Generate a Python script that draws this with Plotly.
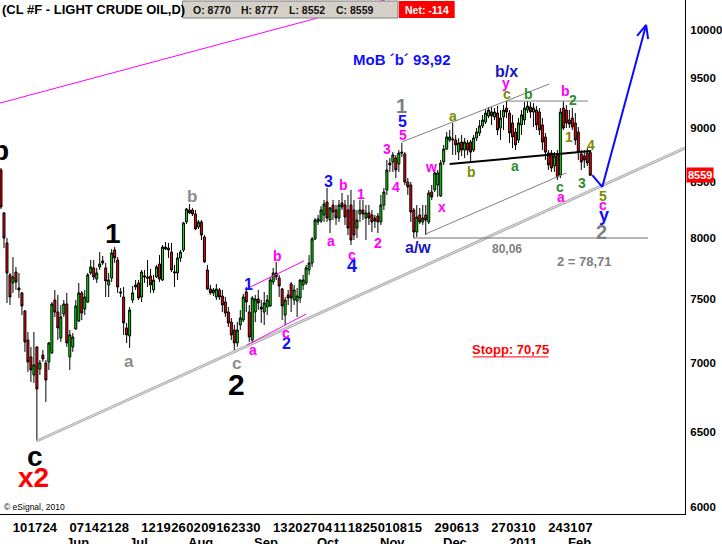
import math
import pandas as pd
import plotly.graph_objects as go

FONT = "Liberation Sans, Arial, sans-serif"

# ---------------- data ----------------
HOLIDAYS = ["2010-05-31", "2010-07-05", "2010-09-06", "2010-11-25", "2010-12-24", "2011-01-17"]
DATES = [d.strftime("%Y-%m-%d") for d in pd.bdate_range("2010-05-04", "2011-02-11")
         if d.strftime("%Y-%m-%d") not in HOLIDAYS]

OPEN = [8607, 8220, 7960, 7692, 7626, 7716, 7585, 7545, 7400, 7174,
        7045, 6910, 7121, 6954, 7060, 7000, 7007, 7075, 7488, 7392,
        7189, 7376, 7456, 7045, 7121, 7259, 7321, 7545, 7416, 7472,
        7708, 7750, 7658, 7758, 7808, 7750, 7610, 7666, 7900, 7816,
        7553, 7512, 7267, 7205, 7488, 7610, 7626, 7512, 7675, 7675,
        7683, 7569, 7675, 7783, 7650, 7925, 7917, 7883, 7708, 7708,
        7833, 7900, 8141, 8246, 8246, 8211, 8097, 8141, 8011, 7733,
        7577, 7545, 7512, 7569, 7520, 7472, 7392, 7313, 7251, 7151,
        7290, 7329, 7553, 7392, 7174, 7392, 7496, 7432, 7392, 7432,
        7440, 7634, 7708, 7666, 7577, 7368, 7529, 7618, 7488, 7480,
        7504, 7610, 7626, 7733, 7791, 7994, 8141, 8149, 8202, 8317,
        8158, 8290, 8246, 8175, 8308, 8290, 8246, 8290, 8246, 8088,
        8211, 8246, 8175, 8220, 8202, 8175, 8193, 8141, 8290, 8425,
        8672, 8681, 8719, 8663, 8774, 8756, 8497, 8470, 8246, 8054,
        8202, 8141, 8202, 8141, 8407, 8425, 8470, 8371, 8681, 8802,
        8888, 8888, 8888, 8774, 8869, 8793, 8860, 8869, 8793, 8907,
        8955, 9023, 9062, 9120, 9159, 9110, 9149, 9003, 9110, 9198,
        9149, 9052, 8965, 8888, 9033, 9081, 9178, 9208, 9159, 9178,
        9159, 9033, 8917, 8765, 8765, 8644, 8747, 8561, 9198, 9178,
        9081, 9100, 9052, 8965, 8756, 8737, 8765, 8770]

HIGH = [8625, 8228, 8002, 7708, 7841, 7758, 7708, 7553, 7408, 7236,
        7121, 7236, 7121, 7022, 7098, 7022, 7159, 7472, 7569, 7529,
        7448, 7488, 7545, 7251, 7228, 7488, 7626, 7561, 7569, 7708,
        7816, 7816, 7750, 7883, 7850, 7791, 7708, 7908, 7926, 7841,
        7585, 7593, 7306, 7432, 7601, 7650, 7650, 7733, 7733, 7816,
        7741, 7692, 7775, 7858, 7942, 7968, 7960, 7960, 7775, 7875,
        7900, 8141, 8264, 8299, 8264, 8246, 8158, 8158, 8028, 7775,
        7610, 7585, 7618, 7585, 7569, 7512, 7432, 7345, 7290, 7313,
        7408, 7537, 7593, 7448, 7520, 7529, 7569, 7488, 7553, 7529,
        7675, 7750, 7800, 7692, 7585, 7512, 7569, 7634, 7610, 7585,
        7655, 7692, 7775, 7858, 8011, 8175, 8202, 8281, 8335, 8443,
        8273, 8335, 8290, 8335, 8398, 8335, 8380, 8425, 8335, 8246,
        8335, 8335, 8290, 8290, 8246, 8202, 8220, 8380, 8443, 8700,
        8719, 8774, 8747, 8793, 8860, 8774, 8533, 8497, 8264, 8290,
        8264, 8290, 8290, 8425, 8470, 8607, 8607, 8700, 8840, 8965,
        8984, 9052, 8936, 8907, 8936, 8907, 8888, 8888, 8936, 9003,
        9081, 9130, 9188, 9208, 9208, 9198, 9218, 9178, 9228, 9267,
        9178, 9130, 9003, 9100, 9178, 9257, 9267, 9257, 9247, 9218,
        9198, 9100, 8955, 8793, 8793, 8774, 8793, 9198, 9267, 9228,
        9178, 9198, 9149, 9013, 8793, 8793, 8812, 8777]

LOW = [8255, 7917, 7464, 7448, 7545, 7569, 7504, 7368, 7083, 6932,
       6858, 6851, 6438, 6910, 7007, 6713, 6947, 7068, 7353, 7174,
       7159, 7353, 7121, 6947, 7083, 7251, 7313, 7329, 7368, 7464,
       7692, 7650, 7626, 7733, 7775, 7512, 7512, 7634, 7791, 7545,
       7512, 7213, 7151, 7113, 7464, 7569, 7488, 7472, 7626, 7593,
       7545, 7545, 7666, 7634, 7642, 7900, 7833, 7716, 7593, 7650,
       7800, 7883, 8123, 8211, 8193, 8071, 8080, 7985, 7791, 7569,
       7529, 7520, 7488, 7488, 7392, 7353, 7274, 7174, 7083, 7121,
       7251, 7313, 7392, 7159, 7151, 7313, 7408, 7306, 7290, 7368,
       7432, 7610, 7650, 7512, 7329, 7290, 7448, 7392, 7448, 7353,
       7464, 7569, 7610, 7692, 7758, 7985, 8115, 8132, 8141, 8141,
       8045, 8158, 8115, 8141, 8246, 8115, 8028, 7942, 7985, 8002,
       8141, 8158, 7985, 8115, 8054, 8088, 8045, 8115, 8246, 8380,
       8589, 8589, 8533, 8589, 8728, 8470, 8380, 8141, 8002, 8011,
       8123, 8115, 8028, 8123, 8335, 8407, 8362, 8362, 8654, 8793,
       8869, 8747, 8747, 8700, 8737, 8719, 8747, 8681, 8774, 8879,
       8926, 9003, 9042, 9100, 9033, 9081, 8936, 8888, 8984, 9100,
       8860, 8812, 8793, 8860, 8936, 9033, 9149, 9100, 9013, 8984,
       8936, 8793, 8700, 8607, 8589, 8589, 8515, 8533, 8984, 9003,
       9003, 8984, 8841, 8700, 8607, 8625, 8644, 8552]

CLOSE = [8273, 8002, 7708, 7512, 7675, 7634, 7569, 7440, 7159, 7007,
         6947, 6985, 6807, 7000, 7030, 6873, 7151, 7456, 7392, 7267,
         7353, 7456, 7151, 7213, 7197, 7440, 7545, 7384, 7512, 7692,
         7758, 7675, 7708, 7783, 7791, 7642, 7650, 7875, 7833, 7593,
         7545, 7306, 7213, 7408, 7545, 7593, 7504, 7716, 7683, 7666,
         7610, 7650, 7758, 7658, 7925, 7908, 7900, 7733, 7716, 7833,
         7883, 8132, 8255, 8220, 8211, 8080, 8141, 8028, 7800, 7577,
         7545, 7569, 7577, 7512, 7448, 7384, 7306, 7213, 7151, 7251,
         7345, 7512, 7472, 7197, 7504, 7496, 7464, 7416, 7464, 7488,
         7650, 7708, 7675, 7601, 7440, 7488, 7504, 7504, 7569, 7520,
         7650, 7650, 7750, 7791, 7994, 8158, 8167, 8246, 8299, 8175,
         8264, 8228, 8175, 8290, 8273, 8184, 8088, 7985, 8028, 8158,
         8246, 8211, 8220, 8175, 8141, 8149, 8141, 8290, 8407, 8607,
         8654, 8747, 8607, 8765, 8765, 8497, 8452, 8228, 8054, 8184,
         8141, 8175, 8158, 8398, 8362, 8580, 8580, 8672, 8802, 8917,
         8917, 8898, 8841, 8860, 8793, 8869, 8793, 8774, 8907, 8965,
         9023, 9081, 9149, 9178, 9120, 9159, 8984, 9100, 9178, 9159,
         8955, 8917, 8841, 9052, 9130, 9198, 9218, 9159, 9198, 9033,
         8984, 8869, 8774, 8654, 8625, 8737, 8543, 9159, 9003, 9052,
         9042, 9013, 8888, 8774, 8681, 8700, 8673, 8559]

TICK_DATES = ["2010-05-10", "2010-05-17", "2010-05-24",
              "2010-06-07", "2010-06-14", "2010-06-21", "2010-06-28",
              "2010-07-12", "2010-07-19", "2010-07-26",
              "2010-08-02", "2010-08-09", "2010-08-16", "2010-08-23", "2010-08-30",
              "2010-09-13", "2010-09-20", "2010-09-27",
              "2010-10-04", "2010-10-11", "2010-10-18", "2010-10-25",
              "2010-11-01", "2010-11-08", "2010-11-15", "2010-11-29",
              "2010-12-06", "2010-12-13", "2010-12-27",
              "2011-01-03", "2011-01-10", "2011-01-24", "2011-01-31",
              "2011-02-07"]
MONTH_STARTS = ["2010-06-03", "2010-07-02", "2010-08-02", "2010-09-01", "2010-10-01",
                "2010-11-01", "2010-12-01", "2011-01-03", "2011-02-01"]
MONTH_LABELS = ["Jun", "Jul", "Aug", "Sep", "Oct", "Nov", "Dec", "2011", "Feb"]
Y_TICKS = [6000, 6500, 7000, 7500, 8000, 8500, 9000, 9500, 10000]
LAST = {"O": 8770, "H": 8777, "L": 8552, "C": 8559, "Net": -114}

N = len(DATES)
X = list(range(N))

fig = go.Figure(go.Candlestick(
    x=X, open=OPEN, high=HIGH, low=LOW, close=CLOSE,
    increasing=dict(fillcolor="#00ee00", line=dict(color="black", width=1)),
    decreasing=dict(fillcolor="#ff0000", line=dict(color="black", width=1)),
    whiskerwidth=0, showlegend=False, hoverinfo="skip"))

K, RED, GRAY, GRAYL = "#000000", "#ff0000", "#808080", "#8c8c8c"
BLUE, NAVY, MAG = "#1010ff", "#1818c0", "#ff00ff"
OLIVE, GREEN = "#7a8c00", "#2e8b2e"

labels = [
    ("b", -0.2, 8793, K, 28), ("1", 37.3, 8045, K, 28), ("c", 11.3, 6335, K, 28),
    ("2", 78.6, 6837, K, 30), ("x2", 10.7, 6188, RED, 28),
    ("b", 63.9, 8365, GRAYL, 17), ("a", 42.8, 7009, GRAYL, 17), ("c", 78.8, 6997, GRAYL, 17),
    ("1", 134.0, 9218, GRAY, 20), ("2", 200.8, 8056, GRAY, 20),
    ("80,06", 169.1, 7908, GRAY, 12), ("2 = 78,71", 195.0, 7802, GRAY, 13),
    ("MoB \u00b4b\u00b4 93,92", 134.2, 9684, BLUE, 15), ("b/x", 168.9, 9570, NAVY, 16),
    ("3", 109.4, 8500, BLUE, 16), ("4", 117.4, 7766, BLUE, 18), ("1", 82.7, 7615, BLUE, 16),
    ("2", 95.6, 7149, BLUE, 16), ("5", 134.1, 9066, BLUE, 16), ("a/w", 139.5, 7917, NAVY, 16),
    ("y", 201.7, 8202, BLUE, 18),
    ("b", 92.4, 7850, MAG, 14), ("a", 84.1, 7098, MAG, 14), ("c", 95.2, 7230, MAG, 14),
    ("a", 110.2, 7977, MAG, 14), ("b", 114.4, 8473, MAG, 14), ("c", 117.2, 7858, MAG, 14),
    ("1", 120.3, 8391, MAG, 14), ("2", 126.0, 7962, MAG, 14), ("3", 129.2, 8800, MAG, 14),
    ("4", 132.2, 8455, MAG, 14), ("5", 134.3, 8936, MAG, 14), ("w", 143.8, 8638, MAG, 14),
    ("x", 147.3, 8270, MAG, 14), ("y", 168.9, 9445, MAG, 14), ("b", 188.6, 9368, MAG, 14),
    ("a", 187.2, 8360, MAG, 14), ("c", 201.3, 8290, MAG, 14),
    ("a", 151.1, 9120, OLIVE, 14), ("b", 157.3, 8593, OLIVE, 14), ("c", 169.1, 9335, OLIVE, 14),
    ("b", 176.3, 9335, GREEN, 14), ("a", 171.9, 8644, GREEN, 14), ("c", 186.9, 8455, GREEN, 14),
    ("2", 191.1, 9277, GREEN, 14), ("1", 190.0, 8914, OLIVE, 14), ("4", 197.2, 8840, OLIVE, 14),
    ("3", 194.1, 8491, GREEN, 14), ("5", 201.3, 8371, OLIVE, 14),
    ("Stopp: 70,75", 170.3, 7098, RED, 13),
]

ann = []
for t, xi, p, c, s in labels:
    ann.append(dict(x=xi, y=math.log10(p), xref="x", yref="y", text="<b>%s</b>" % t,
                    showarrow=False, xanchor="center", yanchor="middle",
                    font=dict(family=FONT, size=s, color=c)))

# lines drawn by the analyst (data coordinates)
lines = [
    (-0.33, 9247, 128.3, 10327, MAG, 1),
    (12, 6438, 228.67, 8812, "#b0b0b0", 3),
    (12, 6438, 228.67, 8812, "#dcdcdc", 1),
    (82, 7577, 101.3, 7808, MAG, 1), (82.3, 7136, 102, 7376, MAG, 1),
    (134, 8869, 183.3, 9438, "#808080", 1), (142, 8037, 189, 8580, "#808080", 1),
    (169, 9267, 196.3, 9267, "#808080", 1), (138, 8002, 216.3, 8002, "#707070", 1),
    (150, 8663, 197.3, 8784, "black", 2),
    (197.67, 8559, 201, 8452, "#0a0aff", 2), (201, 8452, 215.67, 10054, "#0a0aff", 2),
    (215.67, 10054, 212.67, 9936, "#0a0aff", 2), (215.67, 10054, 216.33, 9904, "#0a0aff", 2),
    (157.7, 7045, 183, 7045, RED, 1),
]
shapes = []
for x0, y0, x1, y1, c, w in lines:
    shapes.append(dict(type="line", xref="x", yref="y", x0=x0, y0=y0, x1=x1, y1=y1,
                       line=dict(color=c, width=w), layer="above"))

PW, PH = 687.0, 514.0
# header box
shapes.append(dict(type="rect", xref="paper", yref="paper", x0=183 / PW, x1=399 / PW,
                   y0=1 - 18 / PH, y1=1 - 1 / PH, fillcolor="#d4d0c8",
                   line=dict(color="#808080", width=1), layer="above"))
shapes.append(dict(type="rect", xref="paper", yref="paper", x0=400 / PW, x1=456 / PW,
                   y0=1 - 18 / PH, y1=1 - 1 / PH, fillcolor="#ff0000",
                   line=dict(width=0), layer="above"))

ann.append(dict(x=0, y=1 - 9 / PH, xref="paper", yref="paper", xanchor="left", yanchor="middle",
                text="<b>(CL #F - LIGHT CRUDE OIL,D)</b>", showarrow=False,
                font=dict(family=FONT, size=13, color="black")))
for key, px in (("O", 192), ("H", 240), ("L", 288), ("C", 335)):
    ann.append(dict(x=px / PW, y=1 - 9.5 / PH, xref="paper", yref="paper", xanchor="left",
                    yanchor="middle", text="<b>%s: %d</b>" % (key, LAST[key]), showarrow=False,
                    font=dict(family=FONT, size=10.5, color="#111111")))
ann.append(dict(x=428 / PW, y=1 - 9.5 / PH, xref="paper", yref="paper", xanchor="center",
                yanchor="middle", text="<b>Net: %d</b>" % LAST["Net"], showarrow=False,
                font=dict(family=FONT, size=10.5, color="white")))
ann.append(dict(x=688 / PW, y=math.log10(CLOSE[-1]), xref="paper", yref="y", xanchor="left",
                yanchor="middle", text="<b>%d</b>" % CLOSE[-1], showarrow=False,
                bgcolor="#ff0000", borderpad=1,
                font=dict(family=FONT, size=11, color="white")))
ann.append(dict(x=2 / PW, y=(PH - 507) / PH, xref="paper", yref="paper", xanchor="left",
                yanchor="middle", text="\u00a9 eSignal, 2010", showarrow=False,
                font=dict(family=FONT, size=8.5, color="black")))
for d, m in zip(MONTH_STARTS, MONTH_LABELS):
    ann.append(dict(x=DATES.index(d), y=(PH - 542) / PH, xref="x", yref="paper",
                    xanchor="left", yanchor="middle", text="<b>%s</b>" % m, showarrow=False,
                    font=dict(family=FONT, size=13, color="black")))

fig.update_layout(
    width=722, height=544, margin=dict(l=0, r=35, t=0, b=30),
    paper_bgcolor="white", plot_bgcolor="white", showlegend=False,
    annotations=ann, shapes=shapes, hovermode=False, boxgap=0.05,
    xaxis=dict(type="linear", range=[-1 / 3, 228.667], showgrid=False, zeroline=False,
               showline=True, linecolor="black", linewidth=1, ticks="",
               tickvals=[DATES.index(d) for d in TICK_DATES],
               ticktext=["<b>%s</b>" % d[-2:] for d in TICK_DATES],
               tickangle=0, ticklabelshift=7, ticklabelstandoff=1,
               tickfont=dict(family=FONT, size=13, color="black"),
               rangeslider=dict(visible=False)),
    yaxis=dict(type="log", side="right", range=[3.77478, 4.01396], showgrid=False,
               zeroline=False, showline=True, linecolor="black", linewidth=1, ticks="",
               tickvals=Y_TICKS, ticktext=["<b>%d</b>" % v for v in Y_TICKS],
               ticklabelstandoff=2,
               tickfont=dict(family=FONT, size=11.5, color="black")),
)

fig.write_html("out.html", config={"displayModeBar": False},
               post_script="document.body.style.margin='0';document.body.style.padding='0';")
